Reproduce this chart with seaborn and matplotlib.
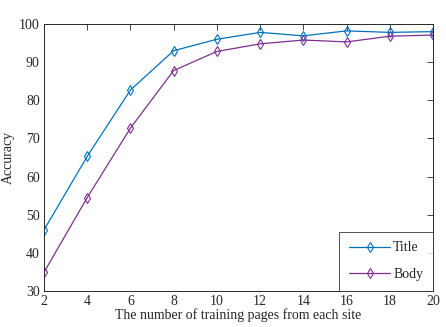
import numpy as np
import pandas as pd
import matplotlib
matplotlib.use("Agg")
import matplotlib.pyplot as plt
import seaborn as sns

# data
pages = [2, 4, 6, 8, 10, 12, 14, 16, 18, 20]
title_acc = [46.0, 65.3, 82.7, 93.0, 96.0, 97.8, 96.9, 98.2, 97.8, 98.0]
body_acc = [34.9, 54.5, 72.7, 87.8, 92.8, 94.8, 95.8, 95.3, 96.8, 97.1]

df = pd.DataFrame({'pages': pages * 2,
                   'acc': title_acc + body_acc,
                   'series': ['Title'] * len(pages) + ['Body'] * len(pages)})

sns.set_style('white')
plt.rcParams['font.family'] = ['Liberation Serif', 'DejaVu Serif']

fig = plt.figure(figsize=(4.46, 3.27), dpi=100)
ax = fig.add_axes([44 / 446, 1 - 291 / 327, (433 - 44) / 446, (291 - 24) / 327])

sns.lineplot(data=df, x='pages', y='acc', hue='series',
             palette={'Title': '#0072BD', 'Body': '#7E2F8E'},
             marker='d', markersize=5, markerfacecolor='none',
             markeredgewidth=0.8, linewidth=0.9, ax=ax)
for line in ax.lines:
    line.set_markeredgecolor(line.get_color())

ax.set_xlim(2, 20)
ax.set_ylim(30, 100)
ax.set_xticks(range(2, 21, 2))
ax.set_yticks(range(30, 101, 10))
ax.tick_params(direction='in', top=True, right=True, length=4, width=0.6,
               labelsize=10, colors='#262626', pad=3)
for s in ax.spines.values():
    s.set_linewidth(0.7)
    s.set_color('#262626')
ax.set_xlabel('The number of training pages from each site', fontsize=10, labelpad=0)
ax.set_ylabel('Accuracy', fontsize=10, labelpad=3)

leg = ax.legend(loc='lower right', fontsize=10, frameon=True, fancybox=False,
                edgecolor='#262626', borderaxespad=0, handlelength=3.0,
                labelspacing=1.0, borderpad=0.7, handletextpad=0.2)
leg.get_frame().set_linewidth(0.7)
for h in leg.legend_handles:
    h.set_markeredgecolor(h.get_color())
    h.set_markerfacecolor('none')

fig.savefig('out.png', dpi=100)
